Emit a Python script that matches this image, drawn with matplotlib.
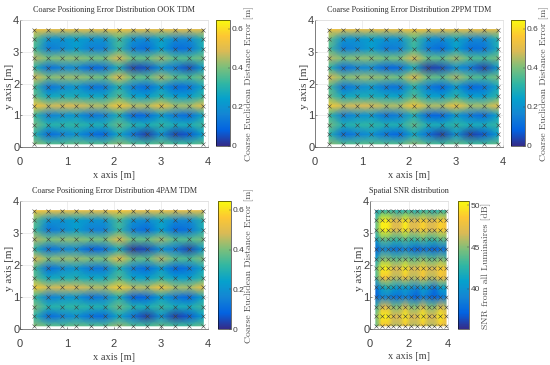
import matplotlib
matplotlib.use('Agg')
import matplotlib.pyplot as plt
from matplotlib.colors import LinearSegmentedColormap
import numpy as np

# grid of receiver positions
x_pos = [0.3, 0.6, 0.9, 1.2, 1.5, 1.8, 2.1, 2.4, 2.7, 3.0, 3.3, 3.6, 3.9]
y_pos = [0.1, 0.4, 0.7, 1.0, 1.3, 1.6, 1.9, 2.2, 2.5, 2.8, 3.1, 3.4, 3.7]

# values, rows go from y=0.1 up to y=3.7
err_ook = [
    [.42, .36, .36, .38, .36, .36, .42, .36, .34, .38, .34, .34, .38],
    [.30, .10, .15, .20, .11, .09, .26, .12, .03, .20, .04, .07, .24],
    [.40, .30, .31, .32, .29, .29, .38, .30, .28, .32, .28, .28, .34],
    [.32, .15, .19, .21, .12, .15, .28, .09, .10, .22, .13, .10, .26],
    [.56, .47, .49, .49, .46, .45, .56, .46, .45, .54, .44, .44, .52],
    [.38, .26, .28, .28, .26, .26, .36, .25, .23, .30, .23, .23, .32],
    [.34, .12, .17, .21, .12, .13, .29, .14, .10, .22, .10, .12, .26],
    [.50, .41, .43, .43, .41, .39, .52, .39, .37, .45, .37, .35, .40],
    [.30, .11, .16, .18, .09, .11, .28, .04, .06, .20, .13, .05, .23],
    [.46, .40, .42, .42, .40, .40, .50, .38, .38, .44, .36, .36, .40],
    [.34, .14, .17, .23, .15, .15, .33, .14, .11, .24, .11, .12, .28],
    [.38, .20, .20, .24, .20, .20, .35, .20, .17, .26, .17, .17, .30],
    [.53, .50, .50, .50, .50, .50, .54, .50, .50, .50, .50, .50, .50],
]
err_2ppm = [
    [.42, .36, .36, .37, .36, .36, .42, .36, .34, .38, .34, .34, .38],
    [.30, .10, .15, .20, .12, .09, .26, .11, .03, .20, .03, .07, .23],
    [.40, .29, .31, .32, .29, .29, .38, .29, .28, .32, .28, .28, .33],
    [.32, .14, .19, .21, .12, .15, .28, .09, .09, .22, .13, .10, .25],
    [.57, .47, .49, .49, .45, .45, .56, .45, .45, .55, .44, .44, .52],
    [.39, .26, .28, .28, .26, .25, .36, .25, .23, .31, .23, .23, .32],
    [.35, .12, .17, .21, .13, .12, .29, .14, .09, .22, .09, .12, .26],
    [.51, .41, .43, .43, .41, .39, .52, .39, .37, .45, .37, .35, .40],
    [.31, .10, .16, .18, .09, .10, .27, .03, .05, .20, .13, .04, .22],
    [.46, .40, .42, .42, .39, .40, .50, .38, .37, .44, .36, .35, .40],
    [.35, .14, .17, .23, .14, .15, .33, .14, .10, .24, .11, .12, .28],
    [.39, .20, .20, .24, .20, .20, .35, .20, .17, .26, .17, .17, .30],
    [.54, .50, .50, .50, .50, .50, .54, .51, .50, .50, .50, .50, .50],
]
err_4pam = [
    [.42, .37, .36, .38, .36, .36, .43, .36, .34, .38, .34, .34, .38],
    [.31, .10, .15, .20, .11, .10, .26, .12, .03, .20, .03, .07, .24],
    [.41, .30, .31, .32, .30, .29, .39, .30, .28, .33, .28, .28, .34],
    [.32, .15, .19, .21, .12, .15, .29, .08, .09, .23, .13, .09, .26],
    [.57, .47, .49, .49, .46, .45, .57, .46, .45, .55, .44, .44, .53],
    [.38, .26, .28, .29, .26, .26, .36, .25, .23, .30, .23, .23, .32],
    [.34, .11, .17, .21, .13, .13, .30, .14, .10, .22, .09, .12, .26],
    [.51, .41, .43, .43, .41, .40, .53, .39, .37, .46, .37, .35, .41],
    [.30, .11, .16, .18, .08, .11, .28, .03, .05, .20, .13, .04, .23],
    [.46, .40, .42, .42, .40, .40, .51, .38, .38, .44, .36, .36, .40],
    [.34, .13, .17, .23, .15, .15, .33, .14, .10, .24, .10, .12, .28],
    [.38, .20, .20, .24, .20, .20, .35, .20, .17, .26, .17, .17, .30],
    [.55, .52, .51, .52, .51, .51, .56, .52, .51, .52, .51, .51, .51],
]
snr = [
    [44, 48, 48, 46, 46, 48, 46, 46, 48, 46, 46, 48, 47],
    [45, 50, 50, 47, 47, 50, 47, 47, 50, 47, 47, 50, 48],
    [43, 47, 47, 45, 45, 47, 45, 45, 47, 45, 45, 47, 46],
    [37, 39, 39, 38, 38, 39, 38, 37, 39, 38, 37, 38, 39],
    [38, 41, 42, 41, 40, 41, 40, 39, 41, 40, 38, 41, 41],
    [43, 48, 48, 46, 46, 48, 46, 46, 48, 46, 46, 48, 47],
    [44, 50, 50, 47, 47, 50, 47, 47, 49, 47, 47, 49, 48],
    [41, 45, 45, 44, 44, 45, 44, 44, 45, 44, 44, 45, 44],
    [37, 39, 39, 38, 38, 39, 38, 37, 38, 38, 37, 38, 38],
    [41, 44, 44, 43, 43, 44, 43, 43, 44, 43, 43, 44, 44],
    [44, 50, 50, 47, 47, 50, 47, 47, 49, 47, 47, 49, 48],
    [44, 50, 50, 47, 47, 50, 47, 47, 49, 47, 47, 49, 48],
    [41, 43, 43, 43, 42, 43, 43, 42, 43, 43, 42, 43, 43],
]

parula = LinearSegmentedColormap.from_list('parula', [
    (.208, .166, .529), (.012, .388, .882), (.078, .522, .831),
    (.024, .631, .800), (.196, .717, .635), (.486, .749, .482),
    (.851, .729, .337), (.992, .780, .200), (.976, .984, .055)])

W, H = 550, 365
fig = plt.figure(figsize=(W / 100, H / 100), dpi=100)
serif = ['Liberation Serif', 'DejaVu Serif']
tex = ['cmr10', 'DejaVu Serif']


def px_axes(left, top, right, bottom):
    return fig.add_axes([left / W, 1 - bottom / H, (right - left) / W, (bottom - top) / H])


def panel(box, cbox, data, title, cbar_label, vmin, vmax, cticks, clabels, xticks, xlab_y, ylab_x, clab_x):
    ax = px_axes(*box)
    ax.grid(True, color='#e8e8e8', lw=0.5)
    ax.set_axisbelow(True)
    mesh = ax.pcolormesh(x_pos, y_pos, np.array(data), shading='gouraud',
                         cmap=parula, vmin=vmin, vmax=vmax, rasterized=True)
    xx, yy = np.meshgrid(x_pos, y_pos)
    ax.plot(xx.ravel(), yy.ravel(), 'x', color='#404040', ms=3.2, mew=0.4, clip_on=False)
    ax.set_xlim(0, 4)
    ax.set_ylim(0, 4)
    ax.set_xticks(xticks)
    ax.set_yticks([0, 1, 2, 3, 4])
    for side in ['top', 'right']:
        ax.spines[side].set_color('#dddddd')
    for side in ['left', 'bottom']:
        ax.spines[side].set_color('#505050')
    for s in ax.spines.values():
        s.set_linewidth(0.5)
    ax.tick_params(direction='in', length=1.5, width=0.4, labelsize=8, colors='#404040')
    ax.tick_params(axis='x', pad=7)
    ax.tick_params(axis='y', pad=0.5)
    for t in ax.get_xticklabels() + ax.get_yticklabels():
        t.set_family('Liberation Sans')
    ax.set_xlabel('x axis [m]', family=serif, fontsize=7.5, color='#404040')
    ax.set_ylabel('y axis [m]', family=serif, fontsize=8, color='#404040')
    cx = (box[0] + box[2]) / 2
    cy = (box[1] + box[3]) / 2 + 3
    ax.xaxis.set_label_coords(cx / W, 1 - xlab_y / H, transform=fig.transFigure)
    ax.yaxis.set_label_coords(ylab_x / W, 1 - cy / H, transform=fig.transFigure)
    ax.set_title(title, family=serif, fontsize=5.9, pad=5.5, color='#303030')

    cax = px_axes(*cbox)
    cb = fig.colorbar(mesh, cax=cax)
    cb.set_ticks(cticks, labels=clabels)
    cb.ax.tick_params(length=1.5, width=0.3, labelsize=6, pad=1.5, direction='in', colors='#404040')
    for t in cb.ax.get_yticklabels():
        t.set_family('Liberation Sans')
    cb.outline.set_linewidth(0.4)
    cb.set_label(cbar_label, family=tex, fontsize=7, color='#505050')
    cb.ax.yaxis.set_label_coords(clab_x / W, 1 - ((cbox[1] + cbox[3]) / 2 + 1) / H, transform=fig.transFigure)


err_label = 'Coarse Euclidean Distance Error [m]'
err_ticks = [0, 0.2, 0.4, 0.6]
err_tick_text = ['0', '0.2', '0.4', '0.6']
panel((20, 20, 208, 147), (216, 20, 230, 146), err_ook, 'Coarse Positioning Error Distribution OOK TDM',
      err_label, 0, 0.645, err_ticks, err_tick_text, [0, 1, 2, 3, 4], 171, 14, 245)
panel((315, 20, 503, 147), (511, 20, 525, 146), err_2ppm, 'Coarse Positioning Error Distribution 2PPM TDM',
      err_label, 0, 0.645, err_ticks, err_tick_text, [0, 1, 2, 3, 4], 171, 309, 540)
panel((20, 201, 208, 329), (218, 201, 231, 329), err_4pam, 'Coarse Positioning Error Distribution 4PAM TDM',
      err_label, 0, 0.645, err_ticks, err_tick_text, [0, 1, 2, 3, 4], 353, 14, 245)
panel((370, 201, 448, 329), (458, 201, 469, 329), snr, 'Spatial SNR distribution',
      'SNR from all Luminaires [dB]', 35.2, 50.5, [40, 45, 50], ['40', '45', '50'], [0, 2, 4], 352, 364, 482)

fig.savefig('out.png', dpi=100)
